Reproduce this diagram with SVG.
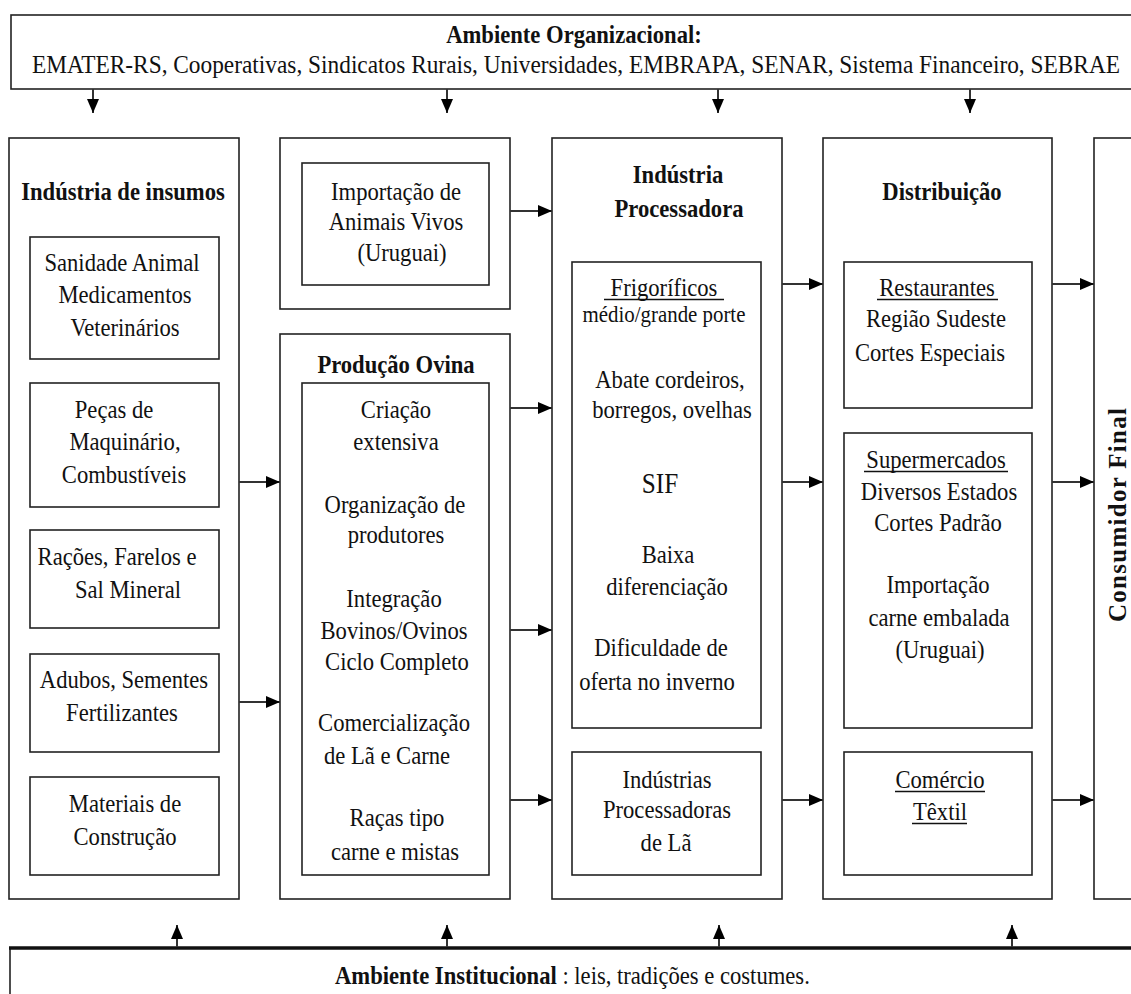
<svg xmlns="http://www.w3.org/2000/svg" width="1131" height="994" viewBox="0 0 1131 994" font-family="'Liberation Serif', 'Times New Roman', 'DejaVu Serif', serif">
<style>
.box{fill:#fff;stroke:#222;stroke-width:1.6}
.t{font-family:'Liberation Serif','Times New Roman','DejaVu Serif',serif;font-size:26px;fill:#111;text-anchor:middle}
.b{font-weight:bold}
.s{font-size:24px}
.u{stroke:#111;stroke-width:1.3}
.c{stroke:#333;stroke-width:2;fill:none}
</style>
<defs>
<marker id="ah" markerWidth="14" markerHeight="12" refX="14" refY="6" orient="auto" markerUnits="userSpaceOnUse">
<path d="M0,0 L14,6 L0,12 z" fill="#000"/>
</marker>
</defs>
<rect width="1131" height="994" fill="#fff"/>

<g id="ambiente-organizacional">
<rect class="box" x="11" y="15" width="1140" height="74" stroke-width="2"/>
<text class="t b" transform="translate(574 43) scale(.87 1)">Ambiente Organizacional:</text>
<text class="t" x="32" y="73" style="text-anchor:start" textLength="1088" lengthAdjust="spacingAndGlyphs">EMATER-RS, Cooperativas, Sindicatos Rurais, Universidades, EMBRAPA, SENAR, Sistema Financeiro, SEBRAE</text>
</g>

<g id="industria-insumos">
<rect class="box" x="9" y="138" width="230" height="761"/>
<text class="t b" transform="translate(123 200) scale(.87 1)">Indústria de insumos</text>
<rect class="box" x="30" y="237" width="189" height="122"/>
<text class="t" transform="translate(122 271) scale(.87 1)">Sanidade Animal</text>
<text class="t" transform="translate(125 303) scale(.87 1)">Medicamentos</text>
<text class="t" transform="translate(125 336) scale(.87 1)">Veterinários</text>
<rect class="box" x="30" y="383" width="189" height="124"/>
<text class="t" transform="translate(114 418) scale(.87 1)">Peças de</text>
<text class="t" transform="translate(125 450) scale(.87 1)">Maquinário,</text>
<text class="t" transform="translate(124 483) scale(.87 1)">Combustíveis</text>
<rect class="box" x="30" y="530" width="189" height="98"/>
<text class="t" transform="translate(117 565) scale(.87 1)">Rações, Farelos e</text>
<text class="t" transform="translate(128 598) scale(.87 1)">Sal Mineral</text>
<rect class="box" x="30" y="654" width="189" height="98"/>
<text class="t" transform="translate(124 688) scale(.87 1)">Adubos, Sementes</text>
<text class="t" transform="translate(122 721) scale(.87 1)">Fertilizantes</text>
<rect class="box" x="30" y="777" width="189" height="98"/>
<text class="t" transform="translate(125 812) scale(.87 1)">Materiais de</text>
<text class="t" transform="translate(125 845) scale(.87 1)">Construção</text>
</g>

<g id="importacao">
<rect class="box" x="280" y="138" width="230" height="171"/>
<rect class="box" x="302" y="163" width="187" height="122"/>
<text class="t" transform="translate(396 200) scale(.87 1)">Importação de</text>
<text class="t" transform="translate(396 230) scale(.87 1)">Animais Vivos</text>
<text class="t" transform="translate(402 261) scale(.87 1)">(Uruguai)</text>
</g>

<g id="producao-ovina">
<rect class="box" x="280" y="334" width="230" height="565"/>
<text class="t b" transform="translate(396 373) scale(.87 1)">Produção Ovina</text>
<rect class="box" x="302" y="383" width="187" height="492"/>
<text class="t" transform="translate(396 418) scale(.87 1)">Criação</text>
<text class="t" transform="translate(396 450) scale(.87 1)">extensiva</text>
<text class="t" transform="translate(395 513) scale(.87 1)">Organização de</text>
<text class="t" transform="translate(396 543) scale(.87 1)">produtores</text>
<text class="t" transform="translate(394 607) scale(.87 1)">Integração</text>
<text class="t" transform="translate(394 639) scale(.87 1)">Bovinos/Ovinos</text>
<text class="t" transform="translate(397 670) scale(.87 1)">Ciclo Completo</text>
<text class="t" transform="translate(394 731) scale(.87 1)">Comercialização</text>
<text class="t" transform="translate(387 764) scale(.87 1)">de Lã e Carne</text>
<text class="t" transform="translate(397 826) scale(.87 1)">Raças tipo</text>
<text class="t" transform="translate(395 860) scale(.87 1)">carne e mistas</text>
</g>

<g id="industria-processadora">
<rect class="box" x="552" y="138" width="230" height="761"/>
<text class="t b" transform="translate(678 183) scale(.87 1)">Indústria</text>
<text class="t b" transform="translate(679 217) scale(.87 1)">Processadora</text>
<rect class="box" x="572" y="262" width="189" height="466"/>
<text class="t" transform="translate(664 296) scale(.87 1)">Frigoríficos</text>
<line class="u" x1="604" y1="299.5" x2="724" y2="299.5"/>
<text class="t s" transform="translate(664 322) scale(.87 1)">médio/grande porte</text>
<text class="t" transform="translate(670 388) scale(.87 1)">Abate cordeiros,</text>
<text class="t" transform="translate(672 418) scale(.87 1)">borregos, ovelhas</text>
<text class="t" style="font-size:29px" transform="translate(660 493) scale(.87 1)">SIF</text>
<text class="t" transform="translate(668 563) scale(.87 1)">Baixa</text>
<text class="t" transform="translate(667 595) scale(.87 1)">diferenciação</text>
<text class="t" transform="translate(661 656) scale(.87 1)">Dificuldade de</text>
<text class="t" transform="translate(657 690) scale(.87 1)">oferta no inverno</text>
<rect class="box" x="572" y="752" width="189" height="123"/>
<text class="t" transform="translate(667 788) scale(.87 1)">Indústrias</text>
<text class="t" transform="translate(667 818) scale(.87 1)">Processadoras</text>
<text class="t" transform="translate(666 851) scale(.87 1)">de Lã</text>
</g>

<g id="distribuicao">
<rect class="box" x="823" y="138" width="229" height="761"/>
<text class="t b" transform="translate(942 200) scale(.87 1)">Distribuição</text>
<rect class="box" x="844" y="262" width="188" height="146"/>
<text class="t" transform="translate(937 296) scale(.87 1)">Restaurantes</text>
<line class="u" x1="877" y1="299.5" x2="998" y2="299.5"/>
<text class="t" transform="translate(936 327) scale(.87 1)">Região Sudeste</text>
<text class="t" transform="translate(930 361) scale(.87 1)">Cortes Especiais</text>
<rect class="box" x="844" y="433" width="188" height="295"/>
<text class="t" transform="translate(936 468) scale(.87 1)">Supermercados</text>
<line class="u" x1="864" y1="471.5" x2="1008" y2="471.5"/>
<text class="t" transform="translate(939 500) scale(.87 1)">Diversos Estados</text>
<text class="t" transform="translate(938 531) scale(.87 1)">Cortes Padrão</text>
<text class="t" transform="translate(938 593) scale(.87 1)">Importação</text>
<text class="t" transform="translate(939 626) scale(.87 1)">carne embalada</text>
<text class="t" transform="translate(940 658) scale(.87 1)">(Uruguai)</text>
<rect class="box" x="844" y="752" width="188" height="123"/>
<text class="t" transform="translate(940 788) scale(.87 1)">Comércio</text>
<line class="u" x1="895" y1="791.5" x2="985" y2="791.5"/>
<text class="t" transform="translate(940 820) scale(.87 1)">Têxtil</text>
<line class="u" x1="912" y1="823.5" x2="967" y2="823.5"/>
</g>

<g id="consumidor-final">
<rect class="box" x="1094" y="138" width="60" height="761"/>
<text class="t b" style="font-size:25px" transform="translate(1126 515) rotate(-90)" textLength="214" lengthAdjust="spacing">Consumidor Final</text>
</g>

<g id="ambiente-institucional">
<rect class="box" x="10" y="948" width="1140" height="60"/>
<line x1="9" y1="948" x2="1131" y2="948" stroke="#111" stroke-width="3.5"/>
<text class="t" style="text-anchor:start" transform="translate(335 984) scale(.87 1)"><tspan font-weight="bold">Ambiente Institucional</tspan> : leis, tradições e costumes.</text>
</g>

<g id="connectors">
<line class="c" x1="93" y1="89" x2="93" y2="113" marker-end="url(#ah)"/>
<line class="c" x1="447" y1="89" x2="447" y2="113" marker-end="url(#ah)"/>
<line class="c" x1="718" y1="89" x2="718" y2="113" marker-end="url(#ah)"/>
<line class="c" x1="970" y1="89" x2="970" y2="113" marker-end="url(#ah)"/>
<line class="c" x1="177" y1="947" x2="177" y2="925" marker-end="url(#ah)"/>
<line class="c" x1="447" y1="947" x2="447" y2="925" marker-end="url(#ah)"/>
<line class="c" x1="719" y1="947" x2="719" y2="925" marker-end="url(#ah)"/>
<line class="c" x1="1012" y1="947" x2="1012" y2="925" marker-end="url(#ah)"/>
<line class="c" x1="239" y1="482" x2="280" y2="482" marker-end="url(#ah)"/>
<line class="c" x1="239" y1="702" x2="280" y2="702" marker-end="url(#ah)"/>
<line class="c" x1="510" y1="211" x2="552" y2="211" marker-end="url(#ah)"/>
<line class="c" x1="510" y1="408" x2="552" y2="408" marker-end="url(#ah)"/>
<line class="c" x1="510" y1="630" x2="552" y2="630" marker-end="url(#ah)"/>
<line class="c" x1="510" y1="800" x2="552" y2="800" marker-end="url(#ah)"/>
<line class="c" x1="782" y1="284" x2="823" y2="284" marker-end="url(#ah)"/>
<line class="c" x1="782" y1="482" x2="823" y2="482" marker-end="url(#ah)"/>
<line class="c" x1="782" y1="800" x2="823" y2="800" marker-end="url(#ah)"/>
<line class="c" x1="1052" y1="284" x2="1094" y2="284" marker-end="url(#ah)"/>
<line class="c" x1="1052" y1="482" x2="1094" y2="482" marker-end="url(#ah)"/>
<line class="c" x1="1052" y1="800" x2="1094" y2="800" marker-end="url(#ah)"/>
</g>
</svg>
